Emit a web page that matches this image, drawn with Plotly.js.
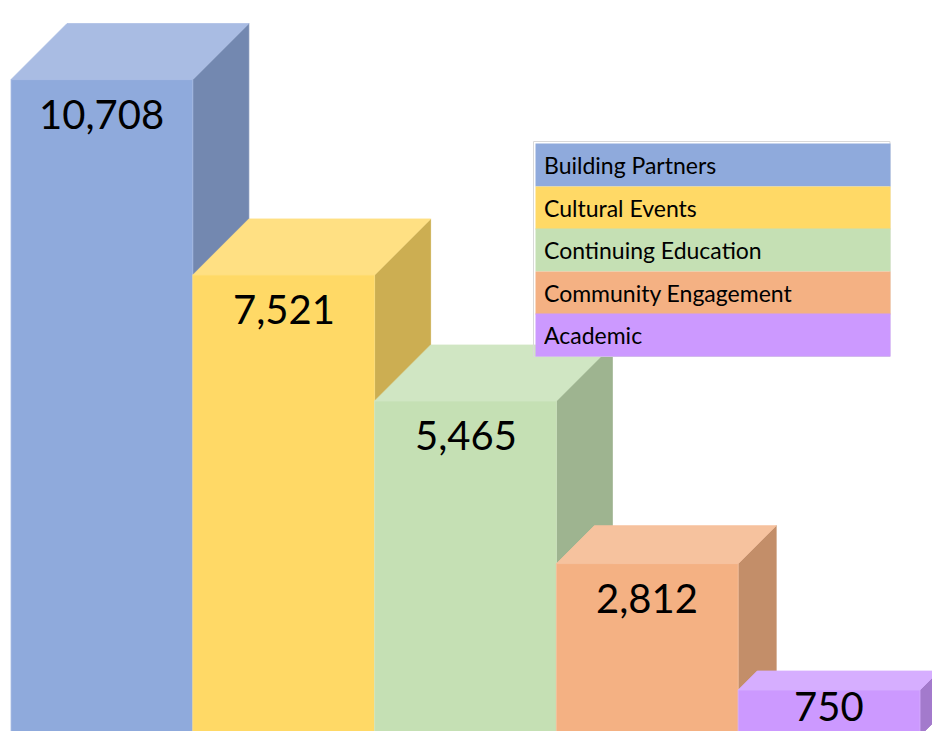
<!DOCTYPE html>
<html>
<head>
<meta charset="utf-8">
<script src="https://cdn.plot.ly/plotly-3.0.1.min.js"></script>
<style>
  html, body { margin: 0; padding: 0; background: #ffffff; }
  #chart { width: 932px; height: 731px; }
</style>
</head>
<body>
<div id="chart"></div>
<script>
// ---- data ----
const categories = ["Building Partners", "Cultural Events", "Continuing Education", "Community Engagement", "Academic"];
const values = [10708, 7521, 5465, 2812, 750];

// ---- styles ----
const frontColors = ["#8FAADC", "#FFD966", "#C5E0B4", "#F4B183", "#CC99FF"];
const topColors   = ["#A9BCE3", "#FFE083", "#D0E6C3", "#F6C29E", "#D6AEFF"];
const sideColors  = ["#7388B0", "#CCAE52", "#9EB490", "#C38E69", "#A37ACC"];
const depthPx     = [56, 56, 56, 38, 19];

const W = 932, H = 731;
const xRange = [-0.5605, 4.566];
const yRange = [81.6, 12006.5];
const pxPerX = W / (xRange[1] - xRange[0]);
const unitsPerPxY = (yRange[1] - yRange[0]) / H;
const halfW = 0.5;

const traces = [];
categories.forEach((c, i) => {
  const v = values[i];
  const dx = depthPx[i] / pxPerX;
  const dy = depthPx[i] * unitsPerPxY;
  const x0 = i - halfW, x1 = i + halfW;
  // side face
  traces.push({
    type: "scatter", mode: "lines", fill: "toself", hoverinfo: "skip", showlegend: false,
    x: [x1, x1 + dx, x1 + dx, x1, x1],
    y: [v, v + dy, 0 + dy, 0, v],
    fillcolor: sideColors[i], line: { color: sideColors[i], width: 0.8 }
  });
  // top face
  traces.push({
    type: "scatter", mode: "lines", fill: "toself", hoverinfo: "skip", showlegend: false,
    x: [x0, x1, x1 + dx, x0 + dx, x0],
    y: [v, v, v + dy, v + dy, v],
    fillcolor: topColors[i], line: { color: topColors[i], width: 0.8 }
  });
  // front face
  traces.push({
    type: "scatter", mode: "lines", fill: "toself", name: c, showlegend: false,
    x: [x0, x1, x1, x0, x0],
    y: [0, 0, v, v, 0],
    fillcolor: frontColors[i], line: { color: topColors[i], width: 0.8 }
  });
});

const annotations = [];
// value labels (kept inside the visible part of each front face)
categories.forEach((c, i) => {
  const topPx = H - (values[i] - yRange[0]) / unitsPerPxY;
  const room = H - topPx - 25;
  annotations.push({
    x: i, y: values[i], xref: "x", yref: "y",
    text: values[i].toLocaleString("en-US"),
    showarrow: false, xanchor: "center", yanchor: "middle",
    yshift: -Math.min(34, room),
    font: { family: "Lato, 'Open Sans', sans-serif", size: 40, color: "#000000" }
  });
});
// legend rows
const legTop = 143, rowH = 42.5, legLeft = 535;
categories.forEach((c, i) => {
  annotations.push({
    x: legLeft / W, y: 1 - (legTop + i * rowH) / H, xref: "paper", yref: "paper",
    xanchor: "left", yanchor: "top", align: "left", valign: "middle",
    text: c, showarrow: false,
    width: 338, height: 26, borderpad: 8,
    bgcolor: frontColors[i],
    font: { family: "Lato, 'Open Sans', sans-serif", size: 23, color: "#000000" }
  });
});

const layout = {
  width: W, height: H,
  margin: { l: 0, r: 0, t: 0, b: 0 },
  paper_bgcolor: "#ffffff", plot_bgcolor: "#ffffff",
  showlegend: false,
  xaxis: { range: xRange, visible: false, fixedrange: true },
  yaxis: { range: yRange, visible: false, fixedrange: true },
  shapes: [{
    type: "rect", xref: "paper", yref: "paper", layer: "above",
    x0: 533.5 / W, x1: 890 / W, y0: 1 - 141.5 / H, y1: 1 - 356.5 / H,
    line: { color: "#D9D9D9", width: 1 }, fillcolor: "rgba(0,0,0,0)"
  }],
  annotations: annotations
};

Plotly.newPlot("chart", traces, layout, { displayModeBar: false, staticPlot: true });
</script>
</body>
</html>
